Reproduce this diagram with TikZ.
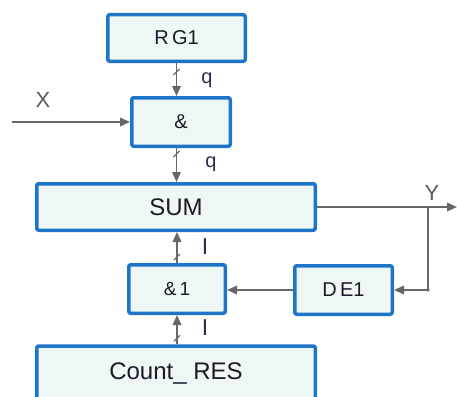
\documentclass[tikz,border=0pt]{standalone}
\usepackage{fontspec}
\setmainfont{Liberation Sans}
\usetikzlibrary{arrows.meta,calc}
\definecolor{boxblue}{HTML}{1C75C9}
\definecolor{boxfill}{HTML}{EEF7F3}
\definecolor{wire}{HTML}{676767}
\definecolor{ink}{HTML}{1A1A2C}
\definecolor{lbl}{HTML}{36284C}
\tikzset{
  block/.style={draw=boxblue, line width=3.5pt, fill=boxfill, rounded corners=2pt,
    inner sep=0pt, text=ink},
  wireline/.style={draw=wire, line width=1.9pt},
  arr/.style={wireline, -{Triangle[length=10pt,width=8.5pt]}},
  slashmark/.style={draw=wire, line width=1.1pt},
  sig/.style={text=lbl, inner sep=0pt},
}
\newcommand{\busmark}[1]{\draw[slashmark] ($(#1)+(-3,3)$) -- ($(#1)+(3,-3)$);}
\begin{document}
\begin{tikzpicture}[x=1pt, y=-1pt]
  \useasboundingbox (0,0) rectangle (457,396);

  % blocks
  \node[block, minimum width=137.5pt, minimum height=46.5pt, font=\fontsize{20}{21}\selectfont] (rg) at (176.5,38) {R\,G1};
  \node[block, minimum width=98.5pt, minimum height=48.5pt, font=\fontsize{20}{21}\selectfont] (andg) at (181,122) {\&};
  \node[block, minimum width=278.5pt, minimum height=46.5pt, font=\fontsize{24}{25}\selectfont] (sum) at (176,207) {SUM};
  \node[block, minimum width=96.5pt, minimum height=48.5pt, font=\fontsize{19}{20}\selectfont] (andone) at (177,289) {\&\,1};
  \node[block, minimum width=97.5pt, minimum height=48.5pt, font=\fontsize{20}{21}\selectfont] (de) at (343.5,290) {D\,E1};
  \node[block, minimum width=278.5pt, minimum height=56pt, font=\fontsize{24}{25}\selectfont] (cnt) at (176,374) {Count\_ RES};

  % end points of the free wires
  \coordinate (xin) at (12,122);
  \coordinate (yout) at (457,207);
  \coordinate (yj) at (428,207);
  \coordinate (yc) at (428,290);

  % bus connections
  \draw[arr] (rg.south) -- (rg.south |- andg.north);
  \busmark{$(rg.south)+(0,9)$}
  \draw[arr] (andg.south -| rg.south) -- (sum.north -| rg.south);
  \busmark{$(andg.south -| rg.south)+(0,6)$}
  \draw[arr] (andone.north) -- (andone.north |- sum.south);
  \busmark{$(andone.north)+(0,-6)$}
  \draw[arr] (cnt.north -| andone.north) -- (andone.south);
  \busmark{$(cnt.north -| andone.north)+(0,-6)$}

  % single wires
  \draw[arr] (xin) -- (andg.west);
  \draw[arr] (sum.east) -- (yout);
  \draw[wireline] (yj) -- (yc);
  \draw[arr] (yc) -- (de.east);
  \fill[wire] (yc) circle (1.8pt);
  \draw[arr] (de.west) -- (de.west -| andone.east);

  % signal labels
  \node[sig, font=\fontsize{20}{21}\selectfont] (q1) at (207,80) {q};
  \node[sig, font=\fontsize{20}{21}\selectfont] (q2) at (211,164) {q};
  \node[sig, font=\fontsize{23}{24}\selectfont] (i1) at (205,247) {I};
  \node[sig, font=\fontsize{23}{24}\selectfont] (i2) at (205,328) {I};
  \node[sig, text=wire!80!lbl, font=\fontsize{22}{23}\selectfont] (xl) at (43,100) {X};
  \node[sig, text=wire!80!lbl, font=\fontsize{22}{23}\selectfont] (yl) at (432,193) {Y};
\end{tikzpicture}
\end{document}
